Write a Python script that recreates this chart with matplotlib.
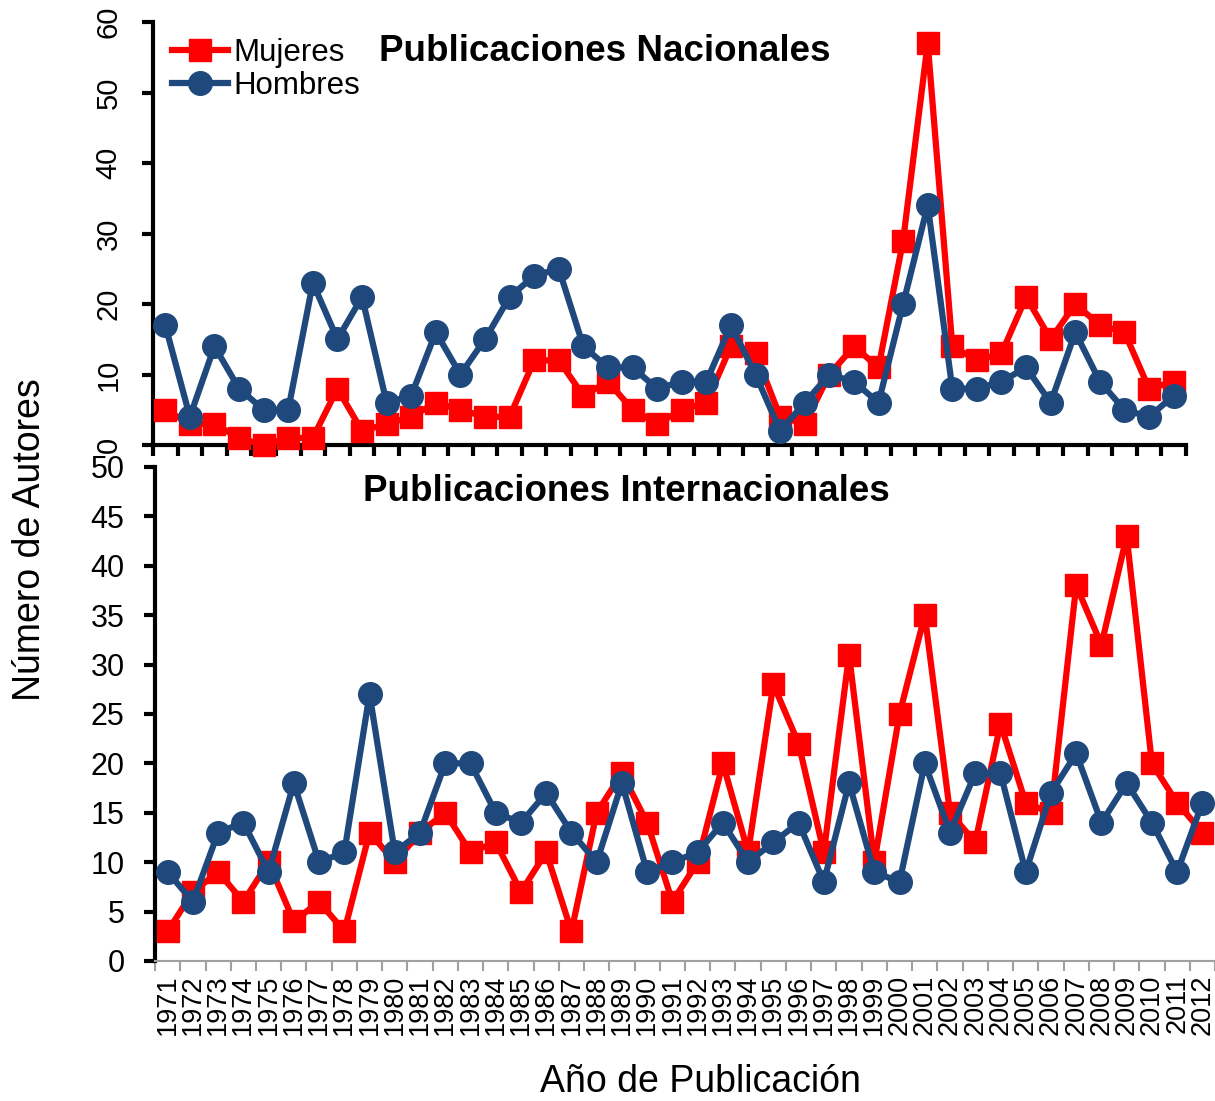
import matplotlib
matplotlib.use("Agg")
import matplotlib.pyplot as plt
import numpy as np

plt.rcParams['font.family'] = ['Liberation Sans', 'DejaVu Sans']

years = [str(y) for y in range(1971, 2013)]

# Publicaciones Nacionales
nac_mujeres = [5, 3, 3, 1, 0, 1, 1, 8, 2, 3, 4, 6, 5, 4, 4, 12, 12, 7, 9, 5, 3,
               5, 6, 14, 13, 4, 3, 10, 14, 11, 29, 57, 14, 12, 13, 21, 15, 20,
               17, 16, 8, 9]
nac_hombres = [17, 4, 14, 8, 5, 5, 23, 15, 21, 6, 7, 16, 10, 15, 21, 24, 25, 14,
               11, 11, 8, 9, 9, 17, 10, 2, 6, 10, 9, 6, 20, 34, 8, 8, 9, 11, 6,
               16, 9, 5, 4, 7]

# Publicaciones Internacionales
int_mujeres = [3, 7, 9, 6, 10, 4, 6, 3, 13, 10, 13, 15, 11, 12, 7, 11, 3, 15,
               19, 14, 6, 10, 20, 11, 28, 22, 11, 31, 10, 25, 35, 15, 12, 24, 16,
               15, 38, 32, 43, 20, 16, 13]
int_hombres = [9, 6, 13, 14, 9, 18, 10, 11, 27, 11, 13, 20, 20, 15, 14, 17, 13,
               10, 18, 9, 10, 11, 14, 10, 12, 14, 8, 18, 9, 8, 20, 13, 19, 19, 9,
               17, 21, 14, 18, 14, 9, 16]

RED = '#FF0000'
BLUE = '#1F497D'

fig = plt.figure(figsize=(12.15, 11.01), dpi=100)
ax1 = fig.add_axes([0.1259, 0.5958, 0.8502, 0.3842])
ax2 = fig.add_axes([0.1276, 0.1272, 0.8724, 0.4487])

x = np.arange(len(years)) + 0.5

for ax, muj, hom in [(ax1, nac_mujeres, nac_hombres), (ax2, int_mujeres, int_hombres)]:
    ax.plot(x, muj, color=RED, lw=4.5, marker='s', ms=16, label='Mujeres', clip_on=False, zorder=3)
    ax.plot(x, hom, color=BLUE, lw=4.5, marker='o', ms=17, label='Hombres', clip_on=False, zorder=4)
    ax.set_xlim(0, len(years))
    ax.set_xticks(np.arange(len(years) + 1))
    ax.spines['top'].set_visible(False)
    ax.spines['right'].set_visible(False)
    ax.spines['left'].set_linewidth(3)

# top panel
ax1.set_ylim(0, 60)
ax1.set_yticks(range(0, 61, 10))
ax1.tick_params(axis='y', direction='out', length=8, width=3, labelsize=21, pad=14)
ax1.set_xticklabels([])
ax1.spines['bottom'].set_linewidth(3)
ax1.tick_params(axis='x', direction='out', length=8, width=3)
for lbl in ax1.get_yticklabels():
    lbl.set_rotation(90)
    lbl.set_va('center')
ax1.text(0.437, 0.931, 'Publicaciones Nacionales', transform=ax1.transAxes,
         ha='center', va='center', fontsize=26.5, fontweight='bold')
ax1.legend(loc='upper left', bbox_to_anchor=(0.0184, 0.962), frameon=False, fontsize=22.5,
           handlelength=1.8, handletextpad=0.15, labelspacing=0.08,
           borderpad=0, borderaxespad=0)

# bottom panel
ax2.set_ylim(0, 50)
ax2.set_yticks(range(0, 51, 5))
ax2.tick_params(axis='y', direction='out', length=8, width=3, labelsize=22, pad=14)
ax2.spines['bottom'].set_color('#A0A0A0')
ax2.spines['bottom'].set_linewidth(1.5)
ax2.tick_params(axis='x', which='major', direction='out', length=7, width=1.5,
                color='#A0A0A0', labelbottom=False)
ax2.set_xticks(x, minor=True)
ax2.set_xticklabels(years, minor=True, rotation=90, fontsize=19.5)
ax2.tick_params(axis='x', which='minor', length=0, pad=10)
ax2.text(0.445, 0.951, 'Publicaciones Internacionales', transform=ax2.transAxes,
         ha='center', va='center', fontsize=26.5, fontweight='bold')

fig.text(0.0247, 0.5095, 'Número de Autores', rotation=90, ha='center', va='center', fontsize=27)
fig.text(0.5766, 0.0173, 'Año de Publicación', ha='center', va='center', fontsize=27)

fig.savefig('out.png', dpi=100)
